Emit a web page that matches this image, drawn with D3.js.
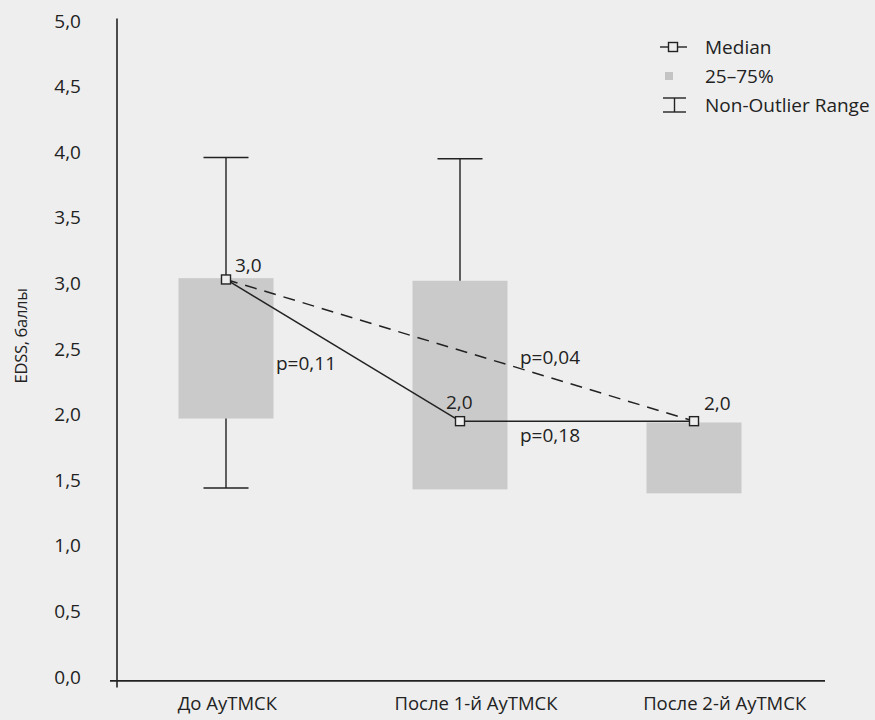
<!DOCTYPE html>
<html>
<head>
<meta charset="utf-8">
<script src="https://cdn.jsdelivr.net/npm/d3@7"></script>
<style>
  body { margin: 0; background: #eeeeee; }
  svg { display: block; font-family: "Open Sans", "Noto Sans", sans-serif; }
</style>
</head>
<body>
<script>
// values
const categories = ["До АуТМСК", "После 1-й АуТМСК", "После 2-й АуТМСК"]
const medians = [3.03, 1.95, 1.95]
const q1 = [1.97, 1.43, 1.40]
const q3 = [3.04, 3.02, 1.94]
const whiskerMin = [1.44, null, null]
const whiskerMax = [3.96, 3.95, null]
const medianLabels = ["3,0", "2,0", "2,0"]
const yTicks = [0, 0.5, 1, 1.5, 2, 2.5, 3, 3.5, 4, 4.5, 5]
// pairwise comparisons: from, to, p label, dashed?
const compFrom = [0, 0, 1]
const compTo = [1, 2, 2]
const compP = ["p=0,11", "p=0,04", "p=0,18"]
const compDashed = [false, true, false]
const legendItems = ["Median", "25–75%", "Non-Outlier Range"]

const width = 875, height = 720

const svg = d3.select("body").append("svg")
    .attr("width", width)
    .attr("height", height)

const x = d3.scalePoint().domain(categories).range([109, 811]).padding(0.5)
const xLabel = d3.scalePoint().domain(categories).range([103, 849]).padding(0.5)
const y = d3.scaleLinear().domain([0, 5]).range([677, 21])

const fmt = v => d3.format(".1f")(v).replace(".", ",")
const boxW = 95, capW = 45

// boxes
svg.append("g").selectAll("rect")
    .data(categories)
    .join("rect")
    .attr("x", d => x(d) - boxW / 2)
    .attr("width", boxW)
    .attr("y", (d, i) => y(q3[i]))
    .attr("height", (d, i) => y(q1[i]) - y(q3[i]))
    .attr("fill", "#cacaca")

// whiskers
const wg = svg.append("g").attr("stroke", "#222").attr("stroke-width", 1.4)
categories.forEach((c, i) => {
    if (whiskerMax[i] != null) {
        wg.append("line").attr("x1", x(c)).attr("x2", x(c)).attr("y1", y(q3[i])).attr("y2", y(whiskerMax[i]))
        wg.append("line").attr("x1", x(c) - capW / 2).attr("x2", x(c) + capW / 2).attr("y1", y(whiskerMax[i])).attr("y2", y(whiskerMax[i]))
    }
    if (whiskerMin[i] != null) {
        wg.append("line").attr("x1", x(c)).attr("x2", x(c)).attr("y1", y(q1[i])).attr("y2", y(whiskerMin[i]))
        wg.append("line").attr("x1", x(c) - capW / 2).attr("x2", x(c) + capW / 2).attr("y1", y(whiskerMin[i])).attr("y2", y(whiskerMin[i]))
    }
})

// axes
svg.append("line")
    .attr("x1", 117).attr("x2", 117)
    .attr("y1", y(5.02)).attr("y2", y(-0.08))
    .attr("stroke", "#222").attr("stroke-width", 1.6)
svg.append("line")
    .attr("x1", 110).attr("x2", 825)
    .attr("y1", y(-0.03)).attr("y2", y(-0.03))
    .attr("stroke", "#222").attr("stroke-width", 1.8)

svg.append("g")
    .attr("font-size", 19)
    .attr("fill", "#222")
    .selectAll("text")
    .data(yTicks)
    .join("text")
    .attr("x", 81)
    .attr("y", d => y(d))
    .attr("dy", "0.35em")
    .attr("text-anchor", "end")
    .text(fmt)

svg.append("g")
    .attr("font-size", 18.5)
    .attr("fill", "#222")
    .selectAll("text")
    .data(categories)
    .join("text")
    .attr("x", d => xLabel(d))
    .attr("y", 704)
    .attr("dy", "0.35em")
    .attr("text-anchor", "middle")
    .text(d => d)

svg.append("text")
    .attr("transform", `translate(21,${(y(2.6))}) rotate(-90)`)
    .attr("text-anchor", "middle")
    .attr("dy", "0.35em")
    .attr("font-size", 16.5)
    .attr("letter-spacing", -0.3)
    .attr("fill", "#222")
    .text("EDSS, баллы")

// median connecting lines
const pt = i => [x(categories[i]), y(medians[i])]
const cg = svg.append("g")
compFrom.forEach((f, k) => {
    const a = pt(f), b = pt(compTo[k])
    cg.append("line")
        .attr("x1", a[0]).attr("y1", a[1]).attr("x2", b[0]).attr("y2", b[1])
        .attr("stroke", "#222").attr("stroke-width", 1.5)
        .attr("stroke-dasharray", compDashed[k] ? "12,8" : null)
})

// p labels, offset from segment midpoint
const pOffset = [[-67, 13], [60, 7], [-57, 14]]
compFrom.forEach((f, k) => {
    const a = pt(f), b = pt(compTo[k])
    svg.append("text")
        .attr("x", (a[0] + b[0]) / 2 + pOffset[k][0])
        .attr("y", (a[1] + b[1]) / 2 + pOffset[k][1])
        .attr("dy", "0.35em")
        .attr("font-size", 19)
        .attr("fill", "#222")
        .text(compP[k])
})

// median markers
svg.append("g").selectAll("rect")
    .data(categories)
    .join("rect")
    .attr("x", d => x(d) - 4.5)
    .attr("y", (d, i) => y(medians[i]) - 4.5)
    .attr("width", 9).attr("height", 9)
    .attr("fill", "#eeeeee")
    .attr("stroke", "#222").attr("stroke-width", 1.4)

const mOffset = [[9, -14], [-14, -19], [10, -18]]
svg.append("g").selectAll("text")
    .data(categories)
    .join("text")
    .attr("x", (d, i) => x(d) + mOffset[i][0])
    .attr("y", (d, i) => y(medians[i]) + mOffset[i][1])
    .attr("dy", "0.35em")
    .attr("font-size", 19)
    .attr("fill", "#222")
    .text((d, i) => medianLabels[i])

// legend
const lg = svg.append("g").attr("transform", "translate(673,47)")
lg.append("line").attr("x1", -13).attr("x2", 14).attr("stroke", "#222").attr("stroke-width", 1.4)
lg.append("rect").attr("x", -4.5).attr("y", -4.5).attr("width", 9).attr("height", 9)
    .attr("fill", "#eeeeee").attr("stroke", "#222").attr("stroke-width", 1.4)
lg.append("rect").attr("x", -8).attr("y", 25).attr("width", 8).attr("height", 8).attr("fill", "#c4c4c4")
const nl = lg.append("g").attr("stroke", "#222").attr("stroke-width", 1.4)
nl.append("line").attr("x1", -10).attr("x2", 13).attr("y1", 51).attr("y2", 51)
nl.append("line").attr("x1", -10).attr("x2", 13).attr("y1", 65).attr("y2", 65)
nl.append("line").attr("x1", 1.5).attr("x2", 1.5).attr("y1", 51).attr("y2", 65)
lg.selectAll("text.leg")
    .data(legendItems)
    .join("text")
    .attr("class", "leg")
    .attr("x", 32)
    .attr("y", (d, i) => i * 29)
    .attr("dy", "0.35em")
    .attr("font-size", 19)
    .attr("fill", "#222")
    .text(d => d)
</script>
</body>
</html>
